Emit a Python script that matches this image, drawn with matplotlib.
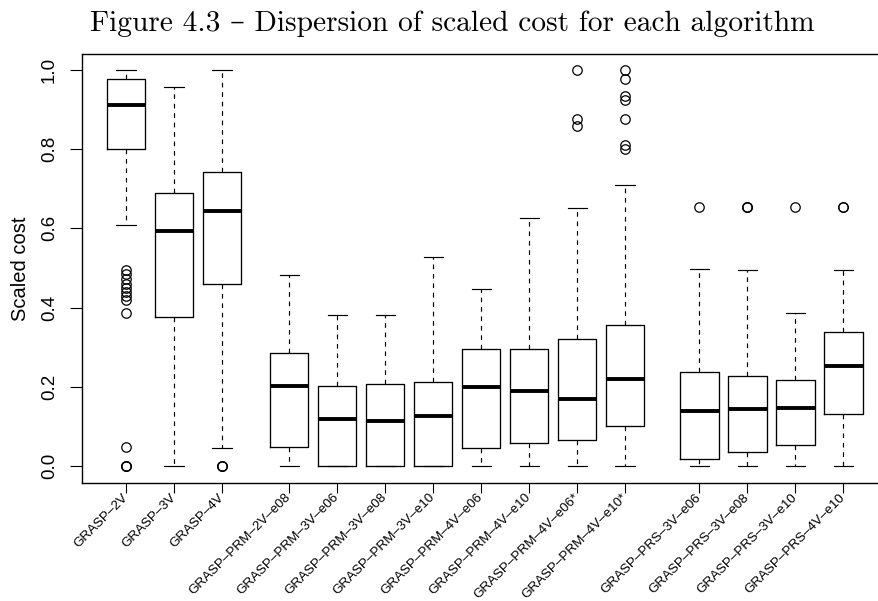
import matplotlib
matplotlib.use("Agg")
import matplotlib.pyplot as plt

# ── data ──
labels = ["GRASP–2V", "GRASP–3V", "GRASP–4V",
          "GRASP–PRM–2V–e08", "GRASP–PRM–3V–e06", "GRASP–PRM–3V–e08",
          "GRASP–PRM–3V–e10", "GRASP–PRM–4V–e06", "GRASP–PRM–4V–e10",
          "GRASP–PRM–4V–e06*", "GRASP–PRM–4V–e10*",
          "GRASP–PRS–3V–e06", "GRASP–PRS–3V–e08", "GRASP–PRS–3V–e10",
          "GRASP–PRS–4V–e10"]
positions = [1, 2, 3,
             4.4, 5.4, 6.4, 7.4, 8.4, 9.4, 10.4, 11.4,
             12.95, 13.95, 14.95, 15.95]

whislo = [0.609, 0.0, 0.045, 0.0, 0.0, 0.0, 0.0, 0.0, 0.0, 0.0, 0.0, 0.0, 0.0, 0.0, 0.0]
q1 = [0.800, 0.375, 0.460, 0.047, 0.0, 0.0, 0.0, 0.045, 0.058, 0.066, 0.101, 0.017, 0.034, 0.053, 0.130]
med = [0.912, 0.593, 0.644, 0.203, 0.119, 0.114, 0.127, 0.200, 0.189, 0.170, 0.220, 0.139, 0.143, 0.146, 0.253]
q3 = [0.978, 0.689, 0.741, 0.285, 0.203, 0.208, 0.211, 0.295, 0.295, 0.321, 0.356, 0.237, 0.227, 0.216, 0.338]
whishi = [1.0, 0.956, 1.0, 0.482, 0.381, 0.381, 0.528, 0.447, 0.625, 0.651, 0.709, 0.497, 0.495, 0.387, 0.495]

fliers = [
    [0.495, 0.485, 0.472, 0.46, 0.45, 0.44, 0.43, 0.42, 0.386, 0.047, 0.0, 0.0, 0.0],
    [],
    [0.0, 0.0, 0.0],
    [], [], [], [], [], [],
    [1.0, 0.876, 0.857],
    [1.0, 0.978, 0.935, 0.925, 0.876, 0.81, 0.80],
    [0.653],
    [0.653, 0.653, 0.653],
    [0.653],
    [0.653, 0.653],
]

stats = []
for i in range(len(labels)):
    stats.append(dict(label=labels[i], whislo=whislo[i], q1=q1[i], med=med[i],
                      q3=q3[i], whishi=whishi[i], fliers=fliers[i]))

fig = plt.figure(figsize=(8.79, 6.01), dpi=100)
ax = fig.add_axes([81.7 / 879, 1 - 483 / 601, (890 - 81.7) / 879, (483 - 54) / 601])

ax.bxp(stats, positions=positions, widths=0.8, capwidths=0.4,
       boxprops=dict(color="black", linewidth=0.95),
       medianprops=dict(color="black", linewidth=2.8, solid_capstyle="butt"),
       whiskerprops=dict(color="black", linewidth=0.85, linestyle=(0, (4, 4))),
       capprops=dict(color="black", linewidth=0.85),
       flierprops=dict(marker="o", markersize=6.8, markerfacecolor="none",
                       markeredgecolor="black", markeredgewidth=0.9))

ax.set_xlim(0.077, 16.92)
ax.set_ylim(-0.043, 1.04)

for s in ax.spines.values():
    s.set_linewidth(1.0)

sans = ["Liberation Sans", "DejaVu Sans"]
ax.set_yticks([0.0, 0.2, 0.4, 0.6, 0.8, 1.0])
ax.set_yticklabels(["0.0", "0.2", "0.4", "0.6", "0.8", "1.0"],
                   rotation=90, va="center", fontsize=13.5, family=sans)
ax.tick_params(axis="y", length=9, width=0.8, pad=8)

ax.set_xticks(positions)
ax.set_xticklabels(labels, rotation=45, ha="right", va="center",
                   rotation_mode="anchor", fontsize=9.6, family=sans)
ax.tick_params(axis="x", length=7.5, width=0.8, pad=1.5)

ax.set_ylabel("Scaled cost", fontsize=14.5, family=sans, labelpad=8)

fig.text(452 / 879, 1 - 24 / 601,
         "Figure 4.3 – Dispersion of scaled cost for each algorithm",
         ha="center", va="center", fontsize=21.2, family=["cmr10", "DejaVu Serif"])

fig.savefig("out.png", dpi=100)
